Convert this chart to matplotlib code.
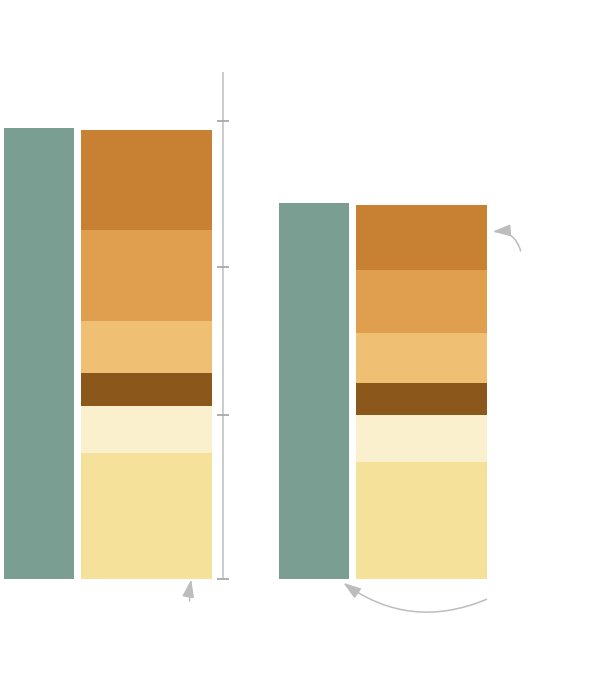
import numpy as np
import matplotlib
matplotlib.use('Agg')
import matplotlib.pyplot as plt

# two groups, a single total bar and a stacked breakdown beside it
groups = [0, 1]
totals = [30.45, 25.38]

seg_names = ['seg1', 'seg2', 'seg3', 'seg4', 'seg5', 'seg6']
seg1 = [8.49, 7.88]
seg2 = [3.20, 3.22]
seg3 = [2.26, 2.16]
seg4 = [3.47, 3.36]
seg5 = [6.15, 4.28]
seg6 = [6.76, 4.37]

scale_ticks = [0, 11.08, 21.1, 30.97]
scale_top = 34.26

total_color = '#7A9E92'
seg_colors = ['#F6E19A', '#FBF0CE', '#8C571B', '#EFC073', '#E09F4E', '#C88132']

fig = plt.figure(figsize=(6, 6.82), dpi=100)
ax = fig.add_axes([0, 0, 1, 1])
ax.set_xlim(-0.1415, 2.0404)
ax.set_ylim(-6.96, 39.12)
ax.axis('off')

x = np.array(groups, dtype=float)
ax.bar(x, totals, width=0.256, color=total_color, linewidth=0)

bottom = np.zeros(len(groups))
for vals, c in zip([seg1, seg2, seg3, seg4, seg5, seg6], seg_colors):
    ax.bar(x + 0.391, vals, width=0.4735, bottom=bottom, color=c, linewidth=0)
    bottom += np.array(vals)

# scale line with ticks
ax_x = 0.668
ax.plot([ax_x, ax_x], [0, scale_top], color='#CCCCCC', lw=1.4, solid_capstyle='butt')
ax.plot([ax_x] * len(scale_ticks), scale_ticks, ls='none', marker='_',
        markersize=8, markeredgewidth=1.3, color='#A9A9A9')

# annotation arrows
arrow_kw = dict(arrowstyle='-|>,head_length=0.6,head_width=0.2', color='#BDBDBD',
                lw=1.1, shrinkA=0, shrinkB=0, mutation_scale=18)
ax.annotate('', xy=(0.554, -0.03), xytext=(0.548, -1.49),
            arrowprops=dict(connectionstyle='arc3,rad=-0.05', **arrow_kw))
ax.annotate('', xy=(1.107, -0.26), xytext=(1.628, -1.37),
            arrowprops=dict(connectionstyle='arc3,rad=-0.28', **arrow_kw))
ax.annotate('', xy=(1.650, 23.47), xytext=(1.752, 22.16),
            arrowprops=dict(connectionstyle='arc3,rad=0.4', **arrow_kw))

plt.savefig('out.png', dpi=100)
